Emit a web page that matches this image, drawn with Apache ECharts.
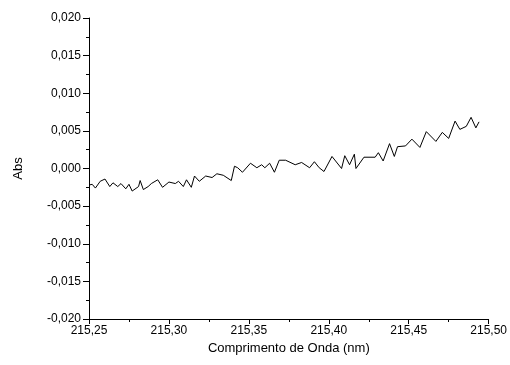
<!DOCTYPE html>
<html>
<head>
<meta charset="utf-8">
<script src="https://cdn.jsdelivr.net/npm/echarts@6/dist/echarts.min.js"></script>
<style>
  html, body { margin: 0; padding: 0; background: #fff; }
  #chart { width: 510px; height: 365px; }
</style>
</head>
<body>
<div id="chart"></div>
<script>
// comprimento de onda (nm)
var wavelength = [
  215.250, 215.252, 215.254, 215.257, 215.260, 215.263, 215.265, 215.268, 215.270, 215.273,
  215.275, 215.277, 215.281, 215.282, 215.284, 215.287, 215.289, 215.293, 215.296, 215.300,
  215.304, 215.306, 215.309, 215.311, 215.314, 215.316, 215.319, 215.323, 215.327, 215.330,
  215.334, 215.339, 215.341, 215.343, 215.346, 215.351, 215.355, 215.358, 215.360, 215.363,
  215.366, 215.369, 215.373, 215.379, 215.383, 215.388, 215.391, 215.394, 215.397, 215.402,
  215.408, 215.410, 215.413, 215.416, 215.417, 215.422, 215.429, 215.431, 215.434, 215.438,
  215.441, 215.443, 215.448, 215.452, 215.457, 215.461, 215.467, 215.471, 215.475, 215.479,
  215.482, 215.486, 215.489, 215.492, 215.494
];
// absorbância
var absorbance = [
  -0.0022, -0.0021, -0.0026, -0.0017, -0.0014, -0.0024, -0.0019, -0.0024, -0.0020, -0.0027,
  -0.0021, -0.0030, -0.0024, -0.0016, -0.0028, -0.0024, -0.0020, -0.0015, -0.0025, -0.0018,
  -0.0020, -0.0017, -0.0024, -0.0015, -0.0025, -0.0010, -0.0017, -0.0010, -0.0012, -0.0007,
  -0.0009, -0.0016, 0.0003, 0.0001, -0.0005, 0.0007, 0.0001, 0.0005, 0.0001, 0.0007,
  -0.0005, 0.0011, 0.0011, 0.0005, 0.0008, 0.0001, 0.0009, 0.0001, -0.0004, 0.0016,
  0.0000, 0.0017, 0.0005, 0.0019, 0.0000, 0.0015, 0.0015, 0.0021, 0.0010, 0.0033,
  0.0016, 0.0029, 0.0030, 0.0039, 0.0028, 0.0049, 0.0036, 0.0048, 0.0040, 0.0063,
  0.0052, 0.0056, 0.0068, 0.0054, 0.0062
];
var xTicks = [215.25, 215.50, 0.05];
var yTicks = [-0.020, 0.020, 0.005];

var points = wavelength.map(function (x, i) {
    return [x, absorbance[i]];
});

function comma(v, d) {
    return v.toFixed(d).replace('.', ',');
}

var myChart = echarts.init(document.getElementById('chart'));

var font = 'Liberation Sans, Arial, sans-serif';

var option = {
    animation: false,
    backgroundColor: '#fff',
    grid: { left: 89, right: 20, top: 18, bottom: 46 },
    xAxis: {
        type: 'value',
        min: xTicks[0],
        max: xTicks[1],
        interval: xTicks[2],
        name: 'Comprimento de Onda (nm)',
        nameLocation: 'middle',
        nameGap: 22,
        nameTextStyle: { fontFamily: font, fontSize: 13, color: '#000' },
        axisLine: { onZero: false, lineStyle: { color: '#000', width: 1 } },
        axisTick: { inside: false, length: 5, lineStyle: { color: '#000' } },
        minorTick: { show: true, splitNumber: 2, length: 3, lineStyle: { color: '#000' } },
        splitLine: { show: false },
        axisLabel: {
            fontFamily: font, fontSize: 12, color: '#000', margin: 6,
            formatter: function (v) { return comma(v, 2); }
        }
    },
    yAxis: {
        type: 'value',
        min: yTicks[0],
        max: yTicks[1],
        interval: yTicks[2],
        name: 'Abs',
        nameLocation: 'middle',
        nameGap: 64,
        nameTextStyle: { fontFamily: font, fontSize: 13, color: '#000' },
        axisLine: { show: true, onZero: false, lineStyle: { color: '#000', width: 1 } },
        axisTick: { show: true, inside: false, length: 6, lineStyle: { color: '#000' } },
        minorTick: { show: true, splitNumber: 2, length: 3, lineStyle: { color: '#000' } },
        splitLine: { show: false },
        axisLabel: {
            fontFamily: font, fontSize: 12, color: '#000', margin: 8,
            formatter: function (v) { return comma(v, 3); }
        }
    },
    series: [{
        type: 'line',
        data: points,
        showSymbol: false,
        symbol: 'none',
        lineStyle: { color: '#000', width: 1 }
    }]
};

myChart.setOption(option);
</script>
</body>
</html>
